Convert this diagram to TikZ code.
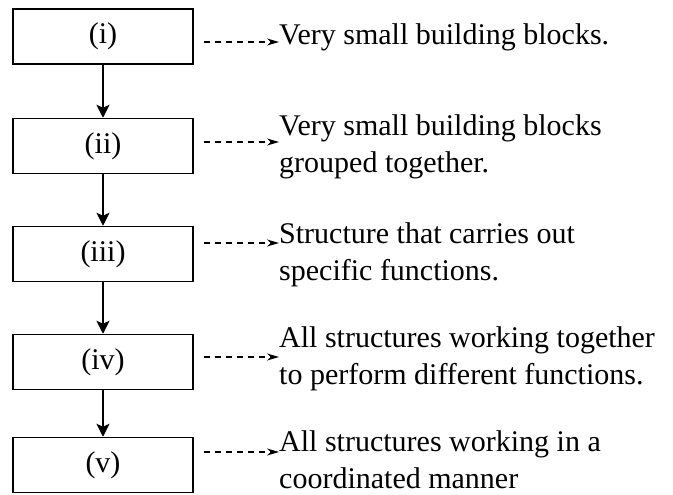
\documentclass[tikz,border=0pt]{standalone}
\usepackage{fontspec}
\setmainfont{Liberation Serif}
\usetikzlibrary{arrows.meta,positioning}

\begin{document}
\begin{tikzpicture}[font=\fontsize{30}{37}\selectfont,
    lvl/.style = {shape=rectangle, draw, line width=1.5pt, minimum width=180pt, minimum height=55pt, inner sep=0pt},
    desc/.style = {anchor=north west, align=left, inner sep=0pt},
    down/.style = {-{Stealth[length=13pt,width=13pt,inset=3pt]}, line width=1.3pt},
    hint/.style = {dash pattern=on 6pt off 5pt, -{Stealth[length=12pt,width=7pt]}, line width=1.2pt}]
            \useasboundingbox (0,0) rectangle (673pt,-495pt);

			\node (one) [lvl] at (103pt,-36.5pt) {(i)};
			\node (two) [lvl,below=53pt of one] {(ii)};
            \node (three) [lvl,below=51.5pt of two] {(iii)};
            \node (four) [lvl,below=51.5pt of three] {(iv)};
            \node (five) [lvl,below=46.5pt of four] {(v)};

            \node (blocks) [desc] at (279pt,-23.5pt) {Very small building blocks.};
            \node (grouped) [desc] at (279pt,-114.5pt) {Very small building blocks\\grouped together.};
            \node (organ) [desc] at (279pt,-222.5pt) {Structure that carries out\\specific functions.};
            \node (system) [desc] at (279pt,-326.5pt) {All structures working together\\to perform different functions.};
            \node (whole) [desc] at (279pt,-430.5pt) {All structures working in a\\coordinated manner};

            \coordinate (tip1) at ([yshift=-18.5pt]blocks.north west);
            \coordinate (tip2) at ([yshift=-27.5pt]grouped.north west);
            \coordinate (tip3) at ([yshift=-20.5pt]organ.north west);
            \coordinate (tip4) at ([yshift=-30.5pt]system.north west);
            \coordinate (tip5) at ([yshift=-21.5pt]whole.north west);

            \draw[down] (one) -- (two);
            \draw[down] (two) -- (three);
            \draw[down] (three) -- (four);
            \draw[down] (four) -- (five);

            \draw[hint] ([xshift=10pt]one.east |- tip1) -- (tip1);
            \draw[hint] ([xshift=10pt]two.east |- tip2) -- (tip2);
            \draw[hint] ([xshift=10pt]three.east |- tip3) -- (tip3);
            \draw[hint] ([xshift=10pt]four.east |- tip4) -- (tip4);
            \draw[hint] ([xshift=10pt]five.east |- tip5) -- (tip5);
		\end{tikzpicture}
\end{document}
